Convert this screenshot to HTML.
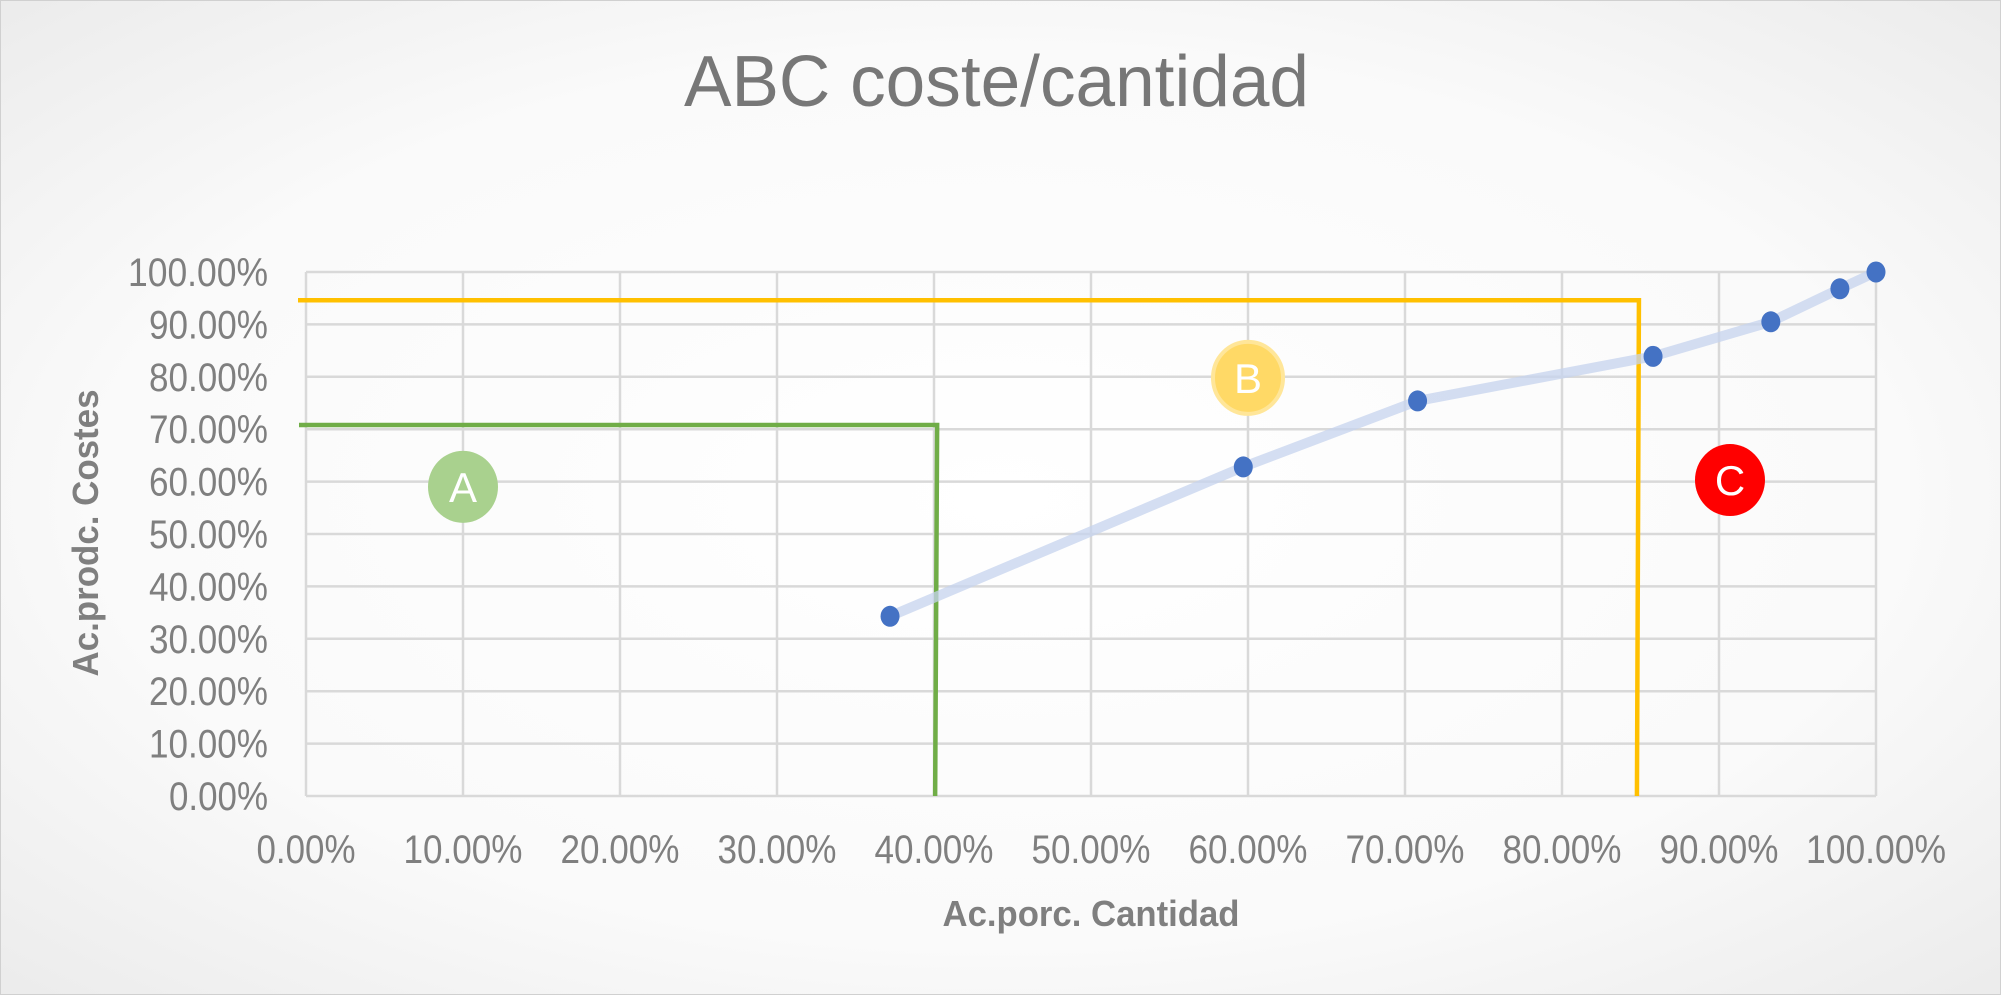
<!DOCTYPE html>
<html><head><meta charset="utf-8">
<style>
html,body{margin:0;padding:0;}
body{width:2001px;height:995px;overflow:hidden;}
svg{display:block;}
text{font-family:"Liberation Sans",sans-serif;}
</style></head>
<body>
<svg id="chart" width="2001" height="995" viewBox="0 0 2001 995" xmlns="http://www.w3.org/2000/svg">
<defs>
<radialGradient id="bg" cx="50%" cy="50%" r="75%">
<stop offset="0" stop-color="#ffffff"/><stop offset="0.6" stop-color="#fafafa"/><stop offset="1" stop-color="#e9e9e9"/>
</radialGradient>
</defs>
<rect x="0.5" y="0.5" width="2000" height="994" fill="url(#bg)" stroke="#d0d0d0"/>
<text x="684" y="106" font-size="72" fill="#777" textLength="625" lengthAdjust="spacingAndGlyphs">ABC coste/cantidad</text>
<g id="grid"></g>
<g id="ticks"></g>
<g id="zones"></g>
<g id="series"></g>
<g id="badges"></g>
<text x="1091" y="926" font-size="36" font-weight="bold" fill="#7f7f7f" text-anchor="middle" textLength="297" lengthAdjust="spacingAndGlyphs">Ac.porc. Cantidad</text>
<text transform="translate(98,533) rotate(-90)" font-size="36" font-weight="bold" fill="#7f7f7f" text-anchor="middle" textLength="287" lengthAdjust="spacingAndGlyphs">Ac.prodc. Costes</text>
</svg>
<script>
const xTicks = [0,10,20,30,40,50,60,70,80,90,100];
const yTicks = [0,10,20,30,40,50,60,70,80,90,100];
const xValues = [37.2,59.7,70.8,85.8,93.3,97.7,100];
const yValues = [34.3,62.8,75.4,83.9,90.5,96.8,100];
const zoneA = [40.2,70.8];
const zoneB = [84.9,94.6];
const badgeLabels = ['A','B','C'];
const badgeX = [10.0,60.0,90.7];
const badgeY = [59.0,79.8,60.3];

const NS='http://www.w3.org/2000/svg';
const L=306,R=1876,T=272,B=796;
const sx=v=>L+(v/100)*(R-L);
const sy=v=>B-(v/100)*(B-T);
const lenFor=s=>s.length<=5?99:(s.length===6?119:140);
function mk(tag,attrs,parent){const e=document.createElementNS(NS,tag);for(const k in attrs)e.setAttribute(k,attrs[k]);parent.appendChild(e);return e;}
const grid=document.getElementById('grid'),ticks=document.getElementById('ticks');
yTicks.forEach(v=>{
  const l=mk('line',{x1:L,x2:R,y1:sy(v),y2:sy(v),stroke:'#d9d9d9','stroke-width':2.5},grid);
  
  
  const s=v.toFixed(2)+'%';
  const t=mk('text',{x:268-lenFor(s),y:sy(v)+14,'font-size':40,fill:'#7f7f7f',textLength:lenFor(s),lengthAdjust:'spacingAndGlyphs'},ticks);
  t.textContent=s;
  
  
});
xTicks.forEach(v=>{
  const l=mk('line',{x1:sx(v),x2:sx(v),y1:T,y2:B,stroke:'#d9d9d9','stroke-width':2.5},grid);
  
  
  const s=v.toFixed(2)+'%';
  const t=mk('text',{x:sx(v)-lenFor(s)/2,y:863,'font-size':40,fill:'#7f7f7f',textLength:lenFor(s),lengthAdjust:'spacingAndGlyphs'},ticks);
  t.textContent=s;
  
  
});
const zones=document.getElementById('zones');
const za=mk('polyline',{points:`${L-7},${sy(zoneA[1])} ${sx(zoneA[0])},${sy(zoneA[1])} ${sx(zoneA[0])-2},${B}`,fill:'none',stroke:'#70ad47','stroke-width':4.5},zones);


const zb=mk('polyline',{points:`${L-8},${sy(zoneB[1])} ${sx(zoneB[0])},${sy(zoneB[1])} ${sx(zoneB[0])-2},${B}`,fill:'none',stroke:'#ffc000','stroke-width':4.5},zones);


const series=document.getElementById('series');
const line=mk('polyline',{points:xValues.map((x,i)=>sx(x)+','+sy(yValues[i])).join(' '),fill:'none',stroke:'#c5d3ee','stroke-width':10,'stroke-linejoin':'round','stroke-opacity':0.75},series);


xValues.forEach((x,i)=>{
  const c=mk('ellipse',{cx:sx(x),cy:sy(yValues[i]),rx:9.5,ry:10.5,fill:'#4472c4'},series);
  
  
});
const badges=document.getElementById('badges');
const fills=['#a9d18e','#ffd966','#ff0000'];
badgeLabels.forEach((lab,i)=>{
  const c=mk('ellipse',{cx:sx(badgeX[i]),cy:sy(badgeY[i]),rx:35,ry:36,fill:fills[i],stroke:i===1?'#ffe699':'none','stroke-width':4},badges);
  
  
  const t=mk('text',{x:sx(badgeX[i]),y:sy(badgeY[i])+15,'font-size':42,fill:'#fff','text-anchor':'middle'},badges);
  t.textContent=lab;
  
  
});
</script>
</body></html>
